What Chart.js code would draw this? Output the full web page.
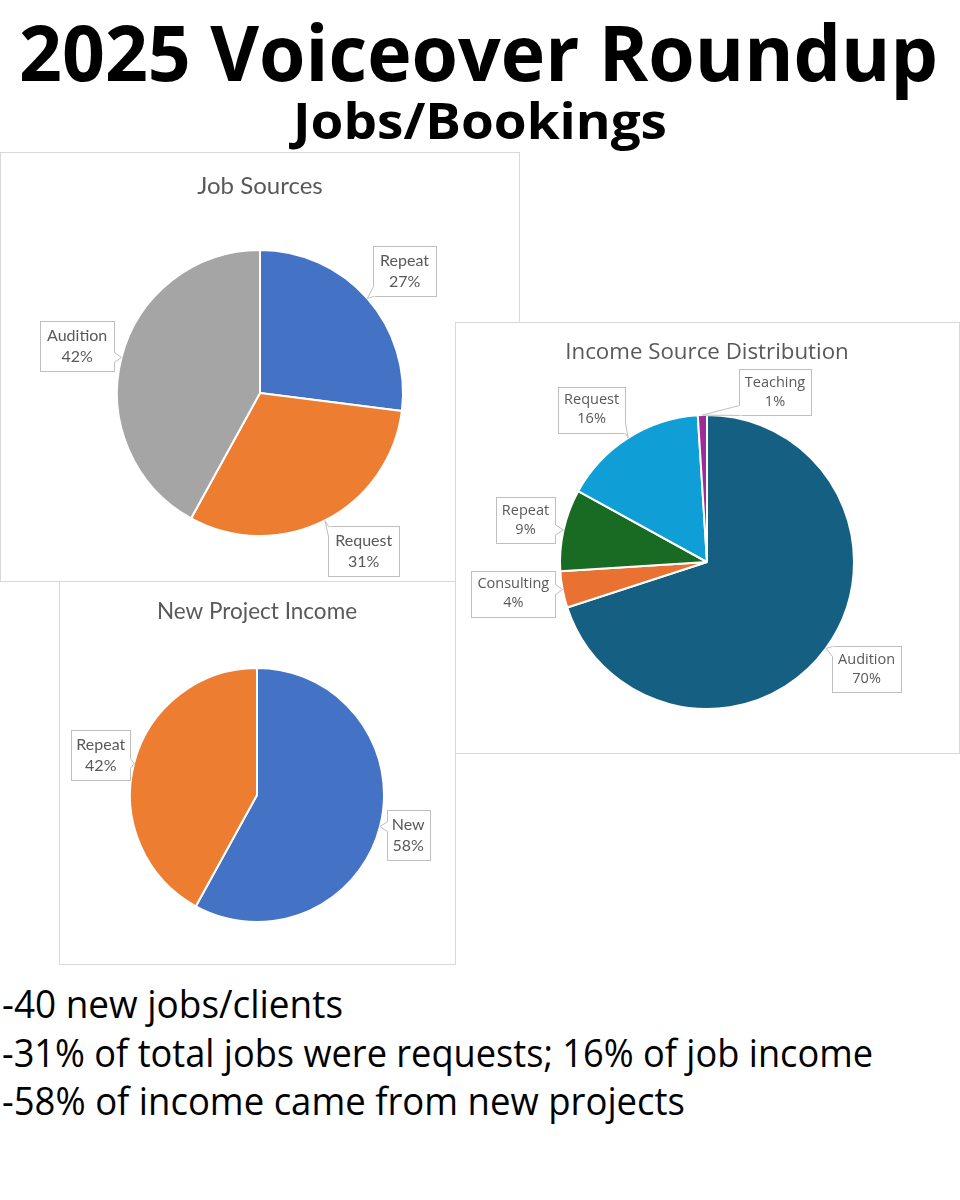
<!DOCTYPE html>
<html>
<head>
<meta charset="utf-8">
<script src="https://cdn.jsdelivr.net/npm/chart.js@4.4.1/dist/chart.umd.min.js"></script>
<style>
  body { margin: 0; background: #fff; width: 960px; height: 1200px; position: relative; overflow: hidden; font-family: "Open Sans", sans-serif; }
  .fit { position: absolute; white-space: nowrap; line-height: 1; transform-origin: 0 0; color: #000; }
  #mainTitle { font-weight: 700; font-size: 77px; left: 19px; top: 13px; }
  #subTitle { font-weight: 700; font-size: 50px; left: 293px; top: 95px; }
  .note { font-size: 38px; left: 2px; }
  .panel { position: absolute; border: 1px solid #d9d9d9; background: #fff; }
  .panel canvas { display: block; }
</style>
</head>
<body>

<div id="mainTitle" class="fit" data-w="919">2025 Voiceover Roundup</div>
<div id="subTitle" class="fit" data-w="374">Jobs/Bookings</div>

<div class="panel" style="left:0;top:152px;width:518px;height:428px">
  <canvas id="jobSources" width="518" height="428"></canvas>
</div>
<div class="panel" style="left:59px;top:581px;width:395px;height:382px">
  <canvas id="newProjectIncome" width="395" height="382"></canvas>
</div>
<div class="panel" style="left:455px;top:322px;width:503px;height:430px">
  <canvas id="incomeSources" width="503" height="430"></canvas>
</div>

<div class="fit note" style="top:984px" data-w="341">-40 new jobs/clients</div>
<div class="fit note" style="top:1033px" data-w="871">-31% of total jobs were requests; 16% of job income</div>
<div class="fit note" style="top:1081px" data-w="683">-58% of income came from new projects</div>

<script>
// Job Sources
const jobSourceLabels = ["Repeat", "Request", "Audition"];
const jobSourceValues = [27, 31, 42];
const jobSourceColors = ["#4472C4", "#ED7D31", "#A5A5A5"];

// Income Source Distribution
const incomeLabels = ["Audition", "Consulting", "Repeat", "Request", "Teaching"];
const incomeValues = [70, 4, 9, 16, 1];
const incomeColors = ["#156082", "#E97132", "#196B24", "#0F9ED5", "#A02B93"];

// New Project Income
const newProjectLabels = ["New", "Repeat"];
const newProjectValues = [58, 42];
const newProjectColors = ["#4472C4", "#ED7D31"];

// squeeze the page texts to the widths they have in the picture
document.querySelectorAll(".fit").forEach((el) => {
  const w = el.getBoundingClientRect().width;
  el.style.transform = `scaleX(${el.dataset.w / w})`;
});

const clamp = (v, lo, hi) => Math.max(lo, Math.min(hi, v));

// Excel-style callout boxes with a small wedge pointing at the slice
const calloutPlugin = {
  id: "callouts",
  afterDatasetsDraw(chart, args, opts) {
    const ctx = chart.ctx;
    const data = chart.data.datasets[0].data;
    const total = data.reduce((a, b) => a + b, 0);

    ctx.save();
    ctx.font = opts.font;
    ctx.lineWidth = 1;

    chart.getDatasetMeta(0).data.forEach((arc, i) => {
      const p = arc.getProps(["x", "y", "startAngle", "endAngle", "outerRadius"], true);
      const mid = (p.startAngle + p.endAngle) / 2;
      const ax = p.x + Math.cos(mid) * p.outerRadius;
      const ay = p.y + Math.sin(mid) * p.outerRadius;
      const nudge = (opts.nudge && opts.nudge[i]) || [0, 0];
      const bx = p.x + Math.cos(mid) * p.outerRadius * opts.distance + nudge[0];
      const by = p.y + Math.sin(mid) * p.outerRadius * opts.distance + nudge[1];

      const lines = [chart.data.labels[i], Math.round((data[i] / total) * 100) + "%"];
      const w = Math.round(Math.max(...lines.map((l) => ctx.measureText(l).width)) + opts.padX * 2);
      const h = Math.round(lines.length * opts.lineHeight + opts.padY * 2);
      const left = Math.round(bx - w / 2) + 0.5;
      const top = Math.round(by - h / 2) + 0.5;
      const right = left + w;
      const bottom = top + h;

      ctx.fillStyle = "#fff";
      ctx.strokeStyle = "#bfbfbf";
      ctx.fillRect(left, top, w, h);
      ctx.strokeRect(left, top, w, h);

      // wedge from the nearest box edge to the slice edge
      const hw = 5;
      let b1, b2, inset;
      if (ax < left) {
        const cy = clamp(ay, top + hw, bottom - hw);
        b1 = [left, cy - hw]; b2 = [left, cy + hw]; inset = [2, 0];
      } else if (ax > right) {
        const cy = clamp(ay, top + hw, bottom - hw);
        b1 = [right, cy - hw]; b2 = [right, cy + hw]; inset = [-2, 0];
      } else if (ay > bottom) {
        const cx = clamp(ax, left + hw, right - hw);
        b1 = [cx - hw, bottom]; b2 = [cx + hw, bottom]; inset = [0, -2];
      } else {
        const cx = clamp(ax, left + hw, right - hw);
        b1 = [cx - hw, top]; b2 = [cx + hw, top]; inset = [0, 2];
      }
      ctx.beginPath();
      ctx.moveTo(b1[0] + inset[0], b1[1] + inset[1]);
      ctx.lineTo(b1[0], b1[1]);
      ctx.lineTo(ax, ay);
      ctx.lineTo(b2[0], b2[1]);
      ctx.lineTo(b2[0] + inset[0], b2[1] + inset[1]);
      ctx.closePath();
      ctx.fill();
      ctx.beginPath();
      ctx.moveTo(b1[0], b1[1]);
      ctx.lineTo(ax, ay);
      ctx.lineTo(b2[0], b2[1]);
      ctx.stroke();

      ctx.fillStyle = "#595959";
      ctx.textAlign = "center";
      ctx.textBaseline = "middle";
      lines.forEach((line, k) => {
        const ly = by + (k - (lines.length - 1) / 2) * opts.lineHeight;
        ctx.fillText(line, bx, ly);
      });
    });
    ctx.restore();
  },
};

function makePie(canvasId, title, labels, values, colors, geo, callouts) {
  const canvas = document.getElementById(canvasId);
  const w = canvas.width;
  const h = canvas.height;
  const lineH = geo.titleSize * 1.2;
  const half = geo.r + 6;

  return new Chart(canvas, {
    type: "pie",
    data: {
      labels: labels,
      datasets: [
        {
          data: values,
          backgroundColor: colors,
          borderColor: "#ffffff",
          borderWidth: 2,
          radius: geo.r,
        },
      ],
    },
    options: {
      responsive: false,
      animation: false,
      devicePixelRatio: 1,
      layout: {
        padding: {
          top: 0,
          left: geo.cx - half,
          right: w - geo.cx - half,
          bottom: h - (geo.cy + half),
        },
      },
      plugins: {
        legend: { display: false },
        tooltip: { enabled: false },
        title: {
          display: true,
          text: title,
          color: "#595959",
          font: { family: geo.titleFont, size: geo.titleSize, weight: "normal" },
          padding: {
            top: geo.titleY - lineH / 2,
            bottom: geo.cy - half - (geo.titleY + lineH / 2),
          },
        },
        callouts: callouts,
      },
    },
    plugins: [calloutPlugin],
  });
}

makePie(
  "jobSources", "Job Sources",
  jobSourceLabels, jobSourceValues, jobSourceColors,
  { cx: 259, cy: 240, r: 143, titleY: 33, titleSize: 24, titleFont: "Lato" },
  { font: "16px Lato", lineHeight: 21, padX: 7, padY: 4, distance: 1.32, nudge: { 0: [3, 3], 1: [18, -10] } }
);

makePie(
  "incomeSources", "Income Source Distribution",
  incomeLabels, incomeValues, incomeColors,
  { cx: 251, cy: 239, r: 147, titleY: 30, titleSize: 22.3, titleFont: "Open Sans" },
  {
    font: "14.5px 'Open Sans'", lineHeight: 19, padX: 6, padY: 4, distance: 1.3,
    nudge: { 0: [5, -5], 1: [-6, -4], 2: [5, 0], 3: [-13, 9], 4: [74, 21] },
  }
);

makePie(
  "newProjectIncome", "New Project Income",
  newProjectLabels, newProjectValues, newProjectColors,
  { cx: 197, cy: 213, r: 127, titleY: 30, titleSize: 22.5, titleFont: "Lato" },
  { font: "16px Lato", lineHeight: 21, padX: 5, padY: 4, distance: 1.27, nudge: { 0: [-5, 0] } }
);
</script>
</body>
</html>
